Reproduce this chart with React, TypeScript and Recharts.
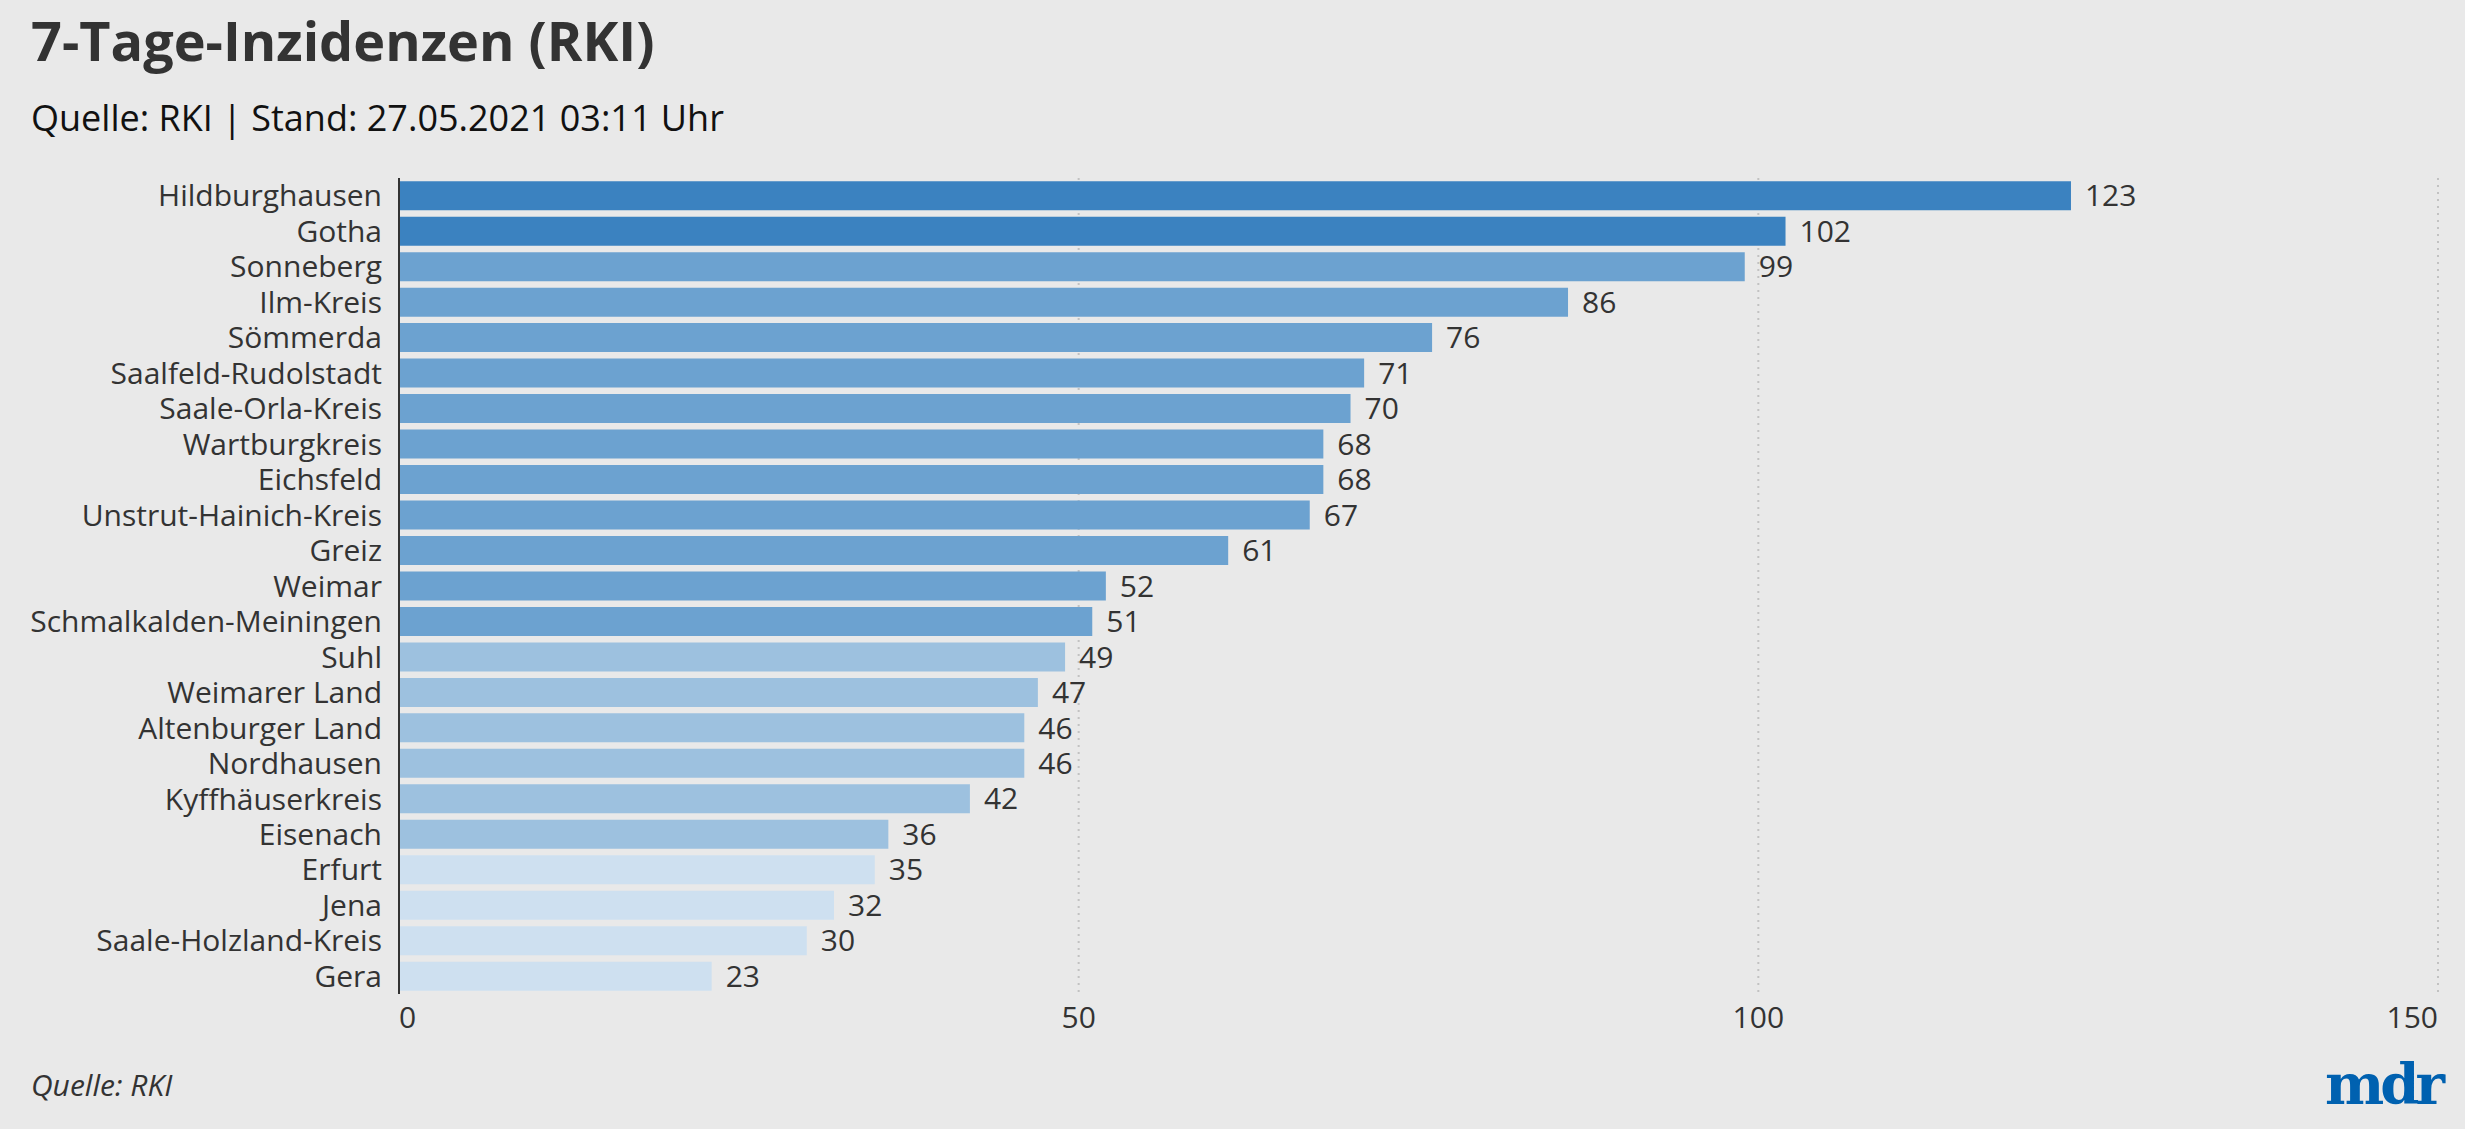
import React from 'react';
import { BarChart, Bar, XAxis, YAxis, CartesianGrid, LabelList, Cell } from 'recharts';

const districts = [
  'Hildburghausen', 'Gotha', 'Sonneberg', 'Ilm-Kreis', 'Sömmerda', 'Saalfeld-Rudolstadt',
  'Saale-Orla-Kreis', 'Wartburgkreis', 'Eichsfeld', 'Unstrut-Hainich-Kreis', 'Greiz', 'Weimar',
  'Schmalkalden-Meiningen', 'Suhl', 'Weimarer Land', 'Altenburger Land', 'Nordhausen',
  'Kyffhäuserkreis', 'Eisenach', 'Erfurt', 'Jena', 'Saale-Holzland-Kreis', 'Gera',
];
const incidence = [123, 102, 99, 86, 76, 71, 70, 68, 68, 67, 61, 52, 51, 49, 47, 46, 46, 42, 36, 35, 32, 30, 23];
const xTicks = [0, 50, 100, 150];

const data = districts.map((name, i) => ({ name, value: incidence[i] }));

const FONT = '"Open Sans", "Noto Sans", sans-serif';
const TEXT = '#333333';

function barColor(v: number) {
  if (v > 100) return '#3b82c0';
  if (v >= 50) return '#6ca2d0';
  if (v > 35) return '#9dc1df';
  return '#cee0f0';
}

// first tick left-aligned, last right-aligned, others centred
const XTick = (props: any) => {
  const { x, y, payload } = props;
  const anchor = payload.value === xTicks[0] ? 'start' : payload.value === xTicks[xTicks.length - 1] ? 'end' : 'middle';
  return (
    <text x={x} y={y} dy={22} textAnchor={anchor} fill={TEXT} fontSize={30} fontFamily={FONT}>
      {payload.value}
    </text>
  );
};

export default function App() {
  return (
    <div style={{ position: 'absolute', left: 0, top: 0, width: 2465, height: 1129, background: '#e9e9e9', fontFamily: FONT }}>
      <div style={{ position: 'absolute', left: 31, top: 8, fontSize: 54, fontWeight: 700, color: TEXT, lineHeight: '64px' }}>
        7-Tage-Inzidenzen (RKI)
      </div>
      <div style={{ position: 'absolute', left: 31, top: 94, fontSize: 36, color: '#111111', lineHeight: '48px' }}>
        Quelle: RKI | Stand: 27.05.2021 03:11 Uhr
      </div>
      <div style={{ position: 'absolute', left: 0, top: 0 }}>
        <BarChart
          width={2465}
          height={1060}
          data={data}
          layout="vertical"
          margin={{ top: 178, right: 27, left: 0, bottom: 36 }}
          barCategoryGap="9%"
        >
          <CartesianGrid horizontal={false} stroke="#c2c2c2" strokeDasharray="2 5" strokeWidth={2} />
          <XAxis
            type="number"
            domain={[0, 150]}
            ticks={xTicks}
            axisLine={false}
            tickLine={false}
            tickSize={0}
            tickMargin={12}
            tick={<XTick />}
          />
          <YAxis
            type="category"
            dataKey="name"
            width={399}
            axisLine={{ stroke: TEXT, strokeWidth: 2 }}
            tickLine={false}
            tickSize={0}
            tickMargin={17}
            interval={0}
            tick={{ fill: TEXT, fontSize: 30, fontFamily: FONT }}
          />
          <Bar dataKey="value" isAnimationActive={false}>
            {data.map((d) => (
              <Cell key={d.name} fill={barColor(d.value)} />
            ))}
            <LabelList dataKey="value" position="right" offset={14} fill={TEXT} fontSize={30} fontFamily={FONT} />
          </Bar>
        </BarChart>
      </div>
      <div style={{ position: 'absolute', left: 31, top: 1066, fontSize: 30, fontStyle: 'italic', color: TEXT, lineHeight: '38px' }}>
        Quelle: RKI
      </div>
      <div
        style={{
          position: 'absolute', right: 24, top: 1052, fontSize: 56, fontWeight: 700, color: '#0061b0',
          fontFamily: '"DejaVu Serif", serif', lineHeight: '64px', letterSpacing: -4,
        }}
      >
        mdr
      </div>
    </div>
  );
}
